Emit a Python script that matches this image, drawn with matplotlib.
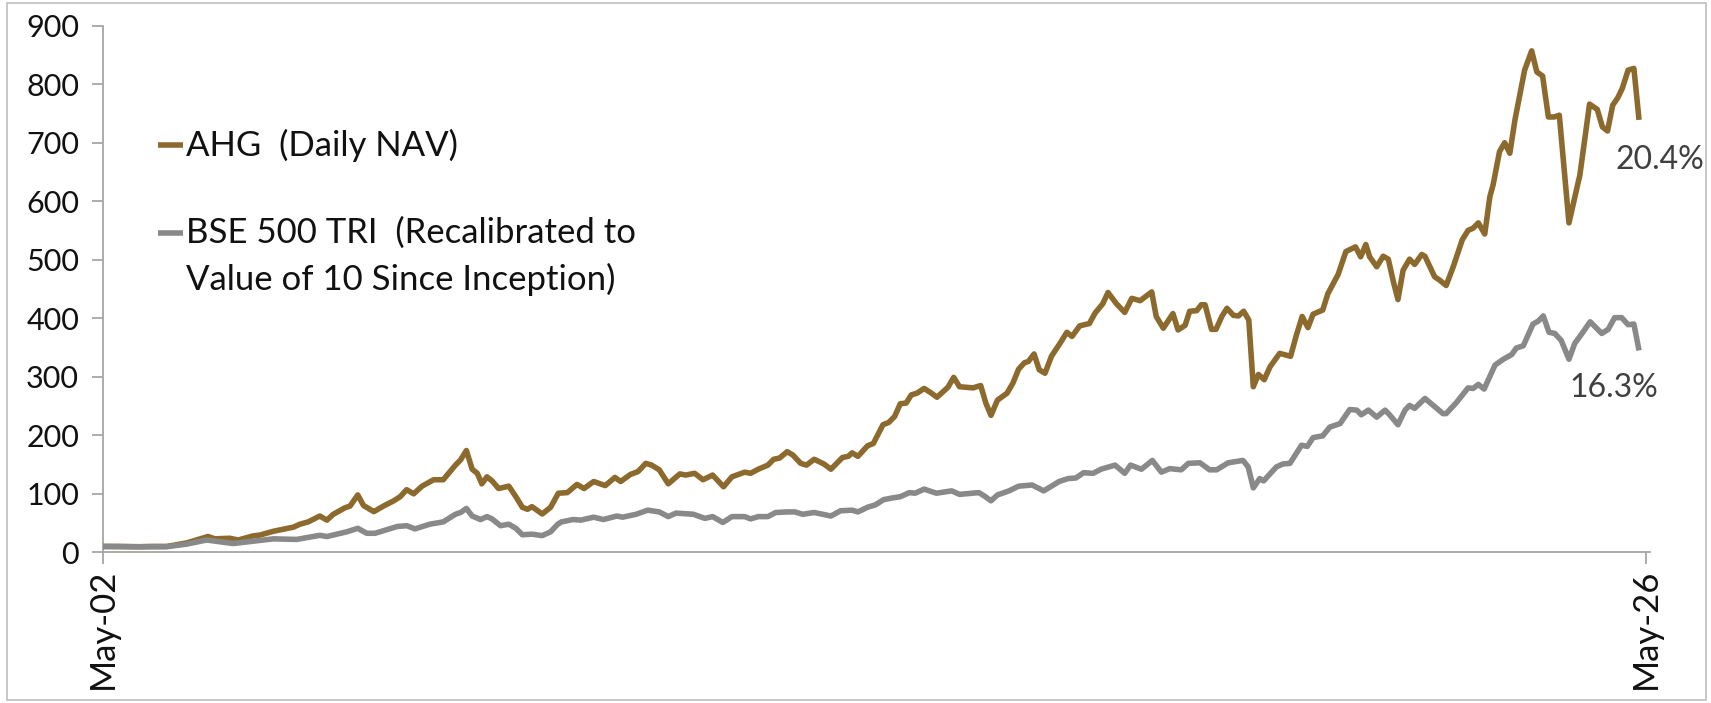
import matplotlib
matplotlib.use("Agg")
import matplotlib.pyplot as plt
from matplotlib.lines import Line2D
from matplotlib.patches import Rectangle

plt.rcParams['font.family'] = ['Lato', 'DejaVu Sans']

# ---- data (decimal year, value) ----
ahg_t = [2002.33, 2002.6, 2002.9, 2003.1, 2003.33, 2003.64, 2003.97, 2004.08, 2004.31, 2004.44,
         2004.67, 2004.78, 2004.99, 2005.30, 2005.40, 2005.53, 2005.71, 2005.82, 2005.92, 2006.10,
         2006.18, 2006.30, 2006.39, 2006.55, 2006.70, 2006.86, 2006.96, 2007.06, 2007.17, 2007.30,
         2007.48, 2007.63, 2007.82, 2007.90, 2007.99, 2008.08, 2008.16, 2008.23, 2008.31, 2008.39,
         2008.49, 2008.65, 2008.76, 2008.86, 2008.94, 2009.01, 2009.17, 2009.30, 2009.42, 2009.56,
         2009.71, 2009.82, 2009.97, 2010.15, 2010.30, 2010.39, 2010.54, 2010.66, 2010.78, 2010.87,
         2010.99, 2011.13, 2011.31, 2011.40, 2011.54, 2011.67, 2011.82, 2011.99, 2012.12, 2012.32,
         2012.41, 2012.53, 2012.68, 2012.77, 2012.86, 2012.98, 2013.07, 2013.19, 2013.28, 2013.40,
         2013.55, 2013.66, 2013.84, 2013.93, 2013.99, 2014.08, 2014.23, 2014.32, 2014.47, 2014.56,
         2014.65, 2014.74, 2014.83, 2014.91, 2015.00, 2015.11, 2015.21, 2015.31, 2015.48, 2015.57,
         2015.66, 2015.87, 2015.99, 2016.07, 2016.15, 2016.25, 2016.40, 2016.49, 2016.58, 2016.67,
         2016.73, 2016.82, 2016.90, 2016.99, 2017.09, 2017.24, 2017.33, 2017.41, 2017.53, 2017.68,
         2017.77, 2017.89, 2017.97, 2018.10, 2018.23, 2018.34, 2018.47, 2018.65, 2018.72, 2018.83,
         2018.98, 2019.06, 2019.17, 2019.24, 2019.35, 2019.42, 2019.48, 2019.58, 2019.65, 2019.74,
         2019.82, 2019.92, 2020.00, 2020.08, 2020.16, 2020.23, 2020.31, 2020.40, 2020.49, 2020.64,
         2020.81, 2020.90, 2020.99, 2021.08, 2021.16, 2021.31, 2021.39, 2021.55, 2021.67, 2021.82,
         2021.90, 2021.98, 2022.04, 2022.15, 2022.25, 2022.33, 2022.41, 2022.48, 2022.56, 2022.66,
         2022.74, 2022.85, 2022.90, 2023.05, 2023.13, 2023.23, 2023.34, 2023.48, 2023.57, 2023.65,
         2023.73, 2023.83, 2023.91, 2023.96, 2024.06, 2024.14, 2024.22, 2024.30, 2024.45, 2024.56,
         2024.64, 2024.73, 2024.82, 2024.91, 2024.99, 2025.14, 2025.31, 2025.46, 2025.58, 2025.66,
         2025.74, 2025.82, 2025.90, 2025.97, 2026.06, 2026.15, 2026.23]
ahg_v = [10, 10, 9.5, 10, 10, 16, 27, 23, 24, 21,
         28, 29.5, 36, 43, 48, 52, 62, 55, 65, 76,
         79, 98, 80, 69.5, 79, 88, 95, 107, 100, 113,
         124, 124, 149, 158, 174, 142, 135, 117, 129, 122,
         109, 113, 95, 77, 73.5, 78, 65.5, 77, 101, 102,
         116, 109, 121, 114, 128, 121, 133, 138, 152, 149,
         141, 117, 134, 132, 135, 124, 132, 112, 129, 137,
         135, 142, 149, 159, 161, 172, 166, 152, 149, 159,
         151, 142, 162, 164, 170, 164, 182, 186, 218, 222,
         232, 254, 255, 269, 272, 280, 273, 265, 282, 299,
         283, 281, 285, 255, 234, 260, 272, 289, 313, 324,
         326, 339, 312, 306, 335, 360, 376, 369, 387, 391,
         409, 425, 444, 425, 410, 434, 430, 445, 403, 383,
         408, 380, 388, 412, 413, 423, 423, 381, 381, 403,
         417, 405, 404, 412, 397, 283, 304, 295, 317, 340,
         335, 371, 403, 384, 407, 414, 442, 475, 514, 522,
         505, 526, 505, 488, 506, 501, 462, 432, 482, 501,
         492, 509, 506, 471, 465, 456, 488, 534, 550, 554,
         563, 544, 608, 628, 685, 700, 682, 739, 824, 857,
         821, 814, 744, 744, 747, 563, 645, 766, 757, 727,
         720, 764, 777, 793, 824, 827, 739]

bse_t = [2002.33, 2002.8, 2003.33, 2003.64, 2003.95, 2004.36, 2004.99, 2005.35, 2005.71, 2005.82,
         2006.13, 2006.30, 2006.44, 2006.57, 2006.91, 2007.06, 2007.19, 2007.42, 2007.63, 2007.82,
         2007.90, 2007.99, 2008.08, 2008.21, 2008.31, 2008.39, 2008.52, 2008.65, 2008.76, 2008.86,
         2009.01, 2009.17, 2009.30, 2009.41, 2009.47, 2009.65, 2009.77, 2009.97, 2010.12, 2010.33,
         2010.42, 2010.63, 2010.81, 2010.99, 2011.13, 2011.25, 2011.52, 2011.70, 2011.82, 2011.98,
         2012.12, 2012.32, 2012.41, 2012.53, 2012.68, 2012.80, 2012.98, 2013.10, 2013.22, 2013.40,
         2013.66, 2013.81, 2013.99, 2014.08, 2014.23, 2014.35, 2014.48, 2014.62, 2014.74, 2014.88,
         2014.97, 2015.11, 2015.30, 2015.54, 2015.66, 2015.96, 2016.05, 2016.15, 2016.25, 2016.43,
         2016.58, 2016.79, 2016.97, 2017.21, 2017.35, 2017.47, 2017.59, 2017.74, 2017.86, 2018.08,
         2018.23, 2018.32, 2018.49, 2018.66, 2018.80, 2018.93, 2019.11, 2019.22, 2019.40, 2019.55,
         2019.66, 2019.84, 2020.07, 2020.15, 2020.23, 2020.33, 2020.39, 2020.59, 2020.69, 2020.80,
         2020.98, 2021.07, 2021.16, 2021.31, 2021.42, 2021.58, 2021.73, 2021.84, 2021.91, 2022.02,
         2022.15, 2022.28, 2022.35, 2022.48, 2022.59, 2022.66, 2022.74, 2022.90, 2023.05, 2023.18,
         2023.23, 2023.39, 2023.57, 2023.65, 2023.73, 2023.82, 2023.99, 2024.12, 2024.25, 2024.32,
         2024.43, 2024.58, 2024.66, 2024.74, 2024.83, 2024.92, 2025.02, 2025.14, 2025.23, 2025.33,
         2025.47, 2025.65, 2025.75, 2025.85, 2025.96, 2026.06, 2026.15, 2026.23]
bse_v = [10, 9.5, 9.6, 14, 21, 15, 23, 22, 29, 27,
         35, 41, 32.5, 32.5, 44, 45.5, 40, 48, 52, 65,
         68, 75, 62, 56, 61, 57, 45.5, 48, 41, 30,
         31, 28.5, 35, 48, 52, 56, 55, 60, 56, 62,
         60, 65, 72, 69, 61, 67, 65, 58, 61, 51,
         61, 61, 57, 61, 61, 68, 69, 69, 65, 68,
         62, 71, 72, 69, 77, 81, 90, 93, 95, 102,
         101, 108, 101, 105, 99, 102, 96, 88, 98, 105,
         113, 115, 105, 121, 126, 127, 136, 135, 142, 149,
         135, 149, 142, 157, 137, 143, 141, 152, 153, 141,
         141, 153, 157, 146, 110, 126, 122, 146, 151, 152,
         183, 181, 196, 199, 214, 220, 244, 243, 235, 243,
         231, 243, 235, 218, 243, 251, 246, 263, 249, 237,
         237, 256, 281, 280, 287, 279, 320, 330, 338, 349,
         353, 390, 395, 404, 376, 374, 362, 330, 357, 372,
         394, 374, 381, 401, 401, 389, 390, 345]

x_ticks = [2002.333, 2026.333]
x_labels = ["May-02", "May-26"]
y_ticks = [0, 100, 200, 300, 400, 500, 600, 700, 800, 900]

AHG_C = "#8C6A2D"
BSE_C = "#898989"
AX_C = "#A6A6A6"

W, H = 1711, 703
fig = plt.figure(figsize=(W / 100, H / 100), dpi=100)

left, right, bottom, top = 102.7, 1650, 552.3, 25.7
ax = fig.add_axes([left / W, 1 - bottom / H, (right - left) / W, (bottom - top) / H])

ax.plot(ahg_t, ahg_v, color=AHG_C, lw=4.0, solid_joinstyle='round', solid_capstyle='butt', zorder=3)
ax.plot(bse_t, bse_v, color=BSE_C, lw=4.0, solid_joinstyle='round', solid_capstyle='butt', zorder=4)

ax.set_xlim(2002.333, 2002.333 + (right - left) / 64.29)
ax.set_ylim(0, 900)
ax.set_xticks(x_ticks)
ax.set_xticklabels(x_labels, rotation=90, fontsize=25)
ax.set_yticks(y_ticks)
ax.set_yticklabels([str(v) for v in y_ticks], fontsize=22)

for s in ['top', 'right']:
    ax.spines[s].set_visible(False)
for s in ['left', 'bottom']:
    ax.spines[s].set_color(AX_C)
    ax.spines[s].set_linewidth(1.3)
ax.tick_params(axis='y', direction='out', length=8, width=1.3, color=AX_C, pad=9)
ax.tick_params(axis='x', direction='out', length=8.5, width=1.3, color=AX_C, pad=3)
for lab in ax.get_xticklabels() + ax.get_yticklabels():
    lab.set_color('#111111')

# legend drawn manually
def fx(x):
    return x / W

def fy(y):
    return 1 - y / H

fig.add_artist(Line2D([fx(158), fx(183)], [fy(145), fy(145)], color=AHG_C, lw=4.0,
                      solid_capstyle='butt', transform=fig.transFigure))
fig.add_artist(Line2D([fx(158), fx(183)], [fy(233), fy(233)], color=BSE_C, lw=4.0,
                      solid_capstyle='butt', transform=fig.transFigure))
LEG_FS = 25
fig.text(fx(186), fy(145), "AHG  (Daily NAV)", fontsize=LEG_FS, va='center', ha='left', color='#111111')
fig.text(fx(186), fy(233), "BSE 500 TRI  (Recalibrated to", fontsize=LEG_FS, va='center', ha='left', color='#111111')
fig.text(fx(186), fy(279), "Value of 10 Since Inception)", fontsize=LEG_FS, va='center', ha='left', color='#111111')

# end labels
ax.text(2025.86, 670, "20.4%", fontsize=23, color='#404040', va='center', ha='left', clip_on=False)
ax.text(2025.15, 281, "16.3%", fontsize=23, color='#404040', va='center', ha='left', clip_on=False)

# outer frame
fig.add_artist(Rectangle((fx(7), fy(700)), fx(1706) - fx(7), fy(3) - fy(700),
                         transform=fig.transFigure, fill=False, edgecolor='#BFBFBF', lw=1.2))

fig.savefig("out.png", dpi=100)
